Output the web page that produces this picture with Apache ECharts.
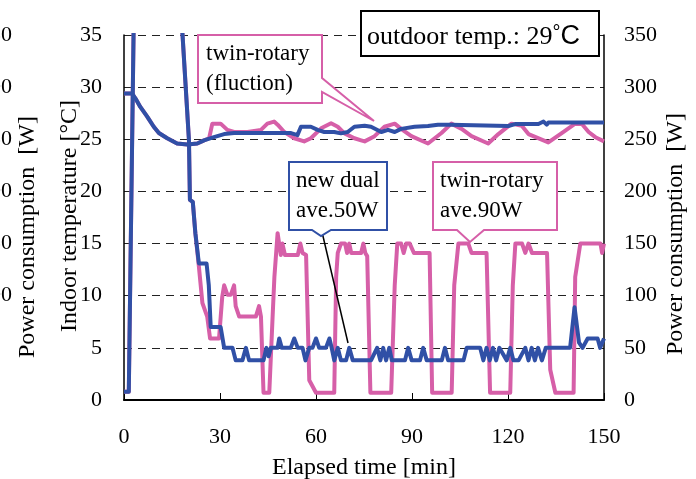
<!DOCTYPE html>
<html>
<head>
<meta charset="utf-8">
<script src="https://cdn.jsdelivr.net/npm/echarts@6/dist/echarts.min.js"></script>
<style>html,body{margin:0;padding:0;background:#fff}#c{width:696px;height:479px}</style>
</head>
<body>
<div id="c"></div>
<script>
// ---- data (time in min) ----
const xTicks = [0, 30, 60, 90, 120, 150];

// Indoor temperature, new dual (blue) [°C]
const dualTempT = [0, 2.5, 3.6, 5.1, 7.2, 9.3, 10.9, 13.5, 16.6, 19.8, 22.9, 25, 28.1, 31.3, 34.4, 42.8, 49, 52.2, 54.2, 55.3, 58.4, 60.5, 62.6, 65.7, 67.8, 69.9, 72, 75.2, 77.2, 80.4, 82.5, 84.6, 86.6, 90.8, 95, 98.1, 102.3, 105.5, 120.1, 122.2, 129.5, 131.1, 132.1, 132.6, 150];
const dualTempV = [29.4, 29.4, 28.9, 28.1, 27.2, 26.2, 25.6, 25.1, 24.6, 24.5, 24.6, 24.9, 25.2, 25.5, 25.6, 25.6, 25.6, 25.6, 25.4, 26.2, 26.2, 25.9, 25.7, 25.7, 25.57, 25.7, 26.2, 26.3, 26.2, 25.7, 25.9, 25.7, 26.0, 26.2, 26.27, 26.4, 26.4, 26.36, 26.27, 26.46, 26.46, 26.7, 26.4, 26.6, 26.6];

// Indoor temperature, twin-rotary (pink) [°C]
const twinTempT = [0, 2.5, 3.6, 5.1, 7.2, 9.3, 10.9, 13.5, 16.6, 19.8, 22.9, 25, 26.6, 27.6, 30.2, 32.3, 34.4, 38.6, 42.8, 44.8, 46.9, 48, 50.1, 53.2, 56.3, 58.4, 61.6, 64.7, 66.8, 68.9, 72, 74.1, 75.2, 78.3, 81.4, 84.6, 86.6, 89.8, 95, 99.2, 102.3, 105.5, 108.6, 113.8, 117, 121.1, 124.3, 126.4, 132.6, 136.8, 141, 143.1, 145.2, 147.3, 150];
const twinTempV = [29.4, 29.4, 28.9, 28.1, 27.2, 26.2, 25.6, 25.1, 24.6, 24.5, 24.6, 24.9, 25.1, 26.5, 26.5, 25.9, 25.7, 25.7, 25.9, 26.5, 26.7, 26.4, 25.7, 25.1, 24.8, 25.1, 26.05, 26.53, 26.2, 25.57, 25.1, 24.9, 24.8, 25.3, 26.2, 26.5, 26.0, 25.3, 24.6, 25.6, 26.5, 26.0, 25.3, 24.6, 25.5, 26.5, 26.3, 25.5, 24.7, 25.6, 26.5, 26.46, 25.7, 25.2, 24.8];

// Power consumption, new dual (blue) [W]
const dualPowT = [0, 1.5, 3.2, 17.3, 20.3, 20.6, 21.5, 22.3, 23.4, 25.8, 26.5, 27.1, 30.2, 31.3, 33.9, 34.9, 37, 38.1, 39.1, 43.6, 44.5, 45.2, 45.9, 48, 48.5, 49.3, 52.1, 53.2, 54.3, 55.8, 56.7, 57.9, 58.9, 60, 61, 63.1, 64.2, 64.9, 65.7, 66.8, 67.8, 69.4, 70.4, 71.5, 77.2, 79.1, 80.1, 81, 81.9, 82.9, 83.7, 87.8, 88.8, 89.9, 92.5, 93.5, 94.6, 99.3, 100.3, 101.3, 106.1, 107.1, 111.3, 112.3, 113.3, 114.3, 115.3, 116.3, 117.3, 119.6, 120.7, 121.7, 123.3, 125.4, 126.4, 127.4, 128.4, 129.4, 130.6, 131.8, 133.7, 139.4, 140.8, 142.2, 143.3, 144.9, 148, 148.8, 150];
const dualPowV = [8, 8, 400, 400, 249, 192, 190, 160, 131, 131, 110, 70, 70, 50, 50, 38, 38, 50, 38, 38, 50, 42, 50, 50, 59, 50, 50, 59, 50, 50, 38, 50, 50, 59, 50, 50, 59, 50, 38, 50, 38, 38, 50, 38, 38, 50, 38, 50, 38, 50, 38, 38, 50, 38, 38, 50, 38, 38, 50, 38, 38, 50, 50, 38, 50, 38, 50, 38, 50, 38, 50, 38, 38, 50, 38, 50, 38, 50, 38, 50, 50, 50, 89, 55, 50, 59, 59, 50, 59];

// Power consumption, twin-rotary (pink) [W]
const twinPowT = [0, 1.5, 3.2, 17.3, 20.3, 20.6, 21.5, 22.3, 23.4, 24.5, 26, 26.9, 29.7, 30.7, 31.3, 32.3, 33.4, 34.4, 34.9, 36, 41.2, 42.2, 42.8, 43.6, 45.4, 46.4, 47, 48, 49, 49.5, 50.3, 54.3, 55.1, 55.8, 56.9, 57.9, 60, 65.7, 66.3, 66.8, 67.8, 69.1, 69.7, 70.4, 71, 74.1, 74.8, 75.4, 76, 77, 83.5, 84.6, 85.4, 86.6, 87.4, 88.2, 89.3, 90.6, 95.5, 96.3, 102.4, 103.2, 104.5, 107.6, 108.6, 113.3, 114.4, 120.7, 121.5, 122.3, 124.4, 125.4, 126.4, 127.5, 132.2, 133.2, 134.8, 140.5, 141, 142.6, 148.9, 149.4, 150];
const twinPowV = [8, 8, 400, 400, 249, 192, 190, 160, 128, 93, 80, 59, 59, 99, 110, 101, 101, 110, 90, 80, 80, 90, 80, 7, 7, 77, 118, 160, 139, 150, 139, 139, 150, 141, 139, 19, 7, 7, 118, 141, 150, 150, 141, 150, 141, 141, 150, 141, 138, 7, 7, 110, 150, 150, 141, 150, 150, 141, 141, 7, 7, 110, 150, 150, 141, 141, 7, 7, 110, 150, 150, 141, 150, 141, 141, 29, 7, 7, 118, 150, 150, 141, 150];

const BLUE = '#3050a6';
const PINK = '#d65fa8';
const SERIF = 'Liberation Serif';

function pairs(t, v) { return t.map((x, i) => [x, v[i]]); }

const chart = echarts.init(document.getElementById('c'));
const txt = (s) => Object.assign({ color: '#000', fontFamily: SERIF }, s);

chart.setOption({
  animation: false,
  backgroundColor: '#fff',
  grid: { left: 124, right: 92, top: 35, bottom: 79, containLabel: false, outerBoundsMode: 'none' },
  xAxis: {
    type: 'value', min: 0, max: 150, interval: 30,
    axisLine: { lineStyle: { color: '#000', width: 2 } },
    axisTick: { inside: true, length: 7, lineStyle: { color: '#000', width: 1 } },
    splitLine: { show: false },
    axisLabel: txt({ fontSize: 22, margin: 26, formatter: v => xTicks.includes(v) ? String(v) : '' }),
    name: 'Elapsed time [min]', nameLocation: 'middle', nameGap: 56,
    nameTextStyle: txt({ fontSize: 24 })
  },
  yAxis: [
    {
      type: 'value', min: 0, max: 35, interval: 5, position: 'left',
      axisLine: { show: true, lineStyle: { color: '#000', width: 1.5 } },
      axisTick: { show: false },
      splitLine: { show: true, lineStyle: { color: '#222', width: 1, type: [8, 6] } },
      axisLabel: txt({ fontSize: 22, margin: 22 })
    },
    {
      type: 'value', min: 0, max: 350, interval: 50, position: 'right',
      axisLine: { show: true, lineStyle: { color: '#000', width: 1.5 } },
      axisTick: { show: false },
      splitLine: { show: false },
      axisLabel: txt({ fontSize: 22, margin: 20 })
    },
    {
      type: 'value', min: 0, max: 350, interval: 50, position: 'left', offset: 90,
      axisLine: { show: false }, axisTick: { show: false }, splitLine: { show: false },
      axisLabel: txt({ fontSize: 22, margin: 22, formatter: v => v >= 100 ? String(v) : '' })
    }
  ],
  series: [
    { name: 'twin-rotary temp', type: 'line', yAxisIndex: 0, data: pairs(twinTempT, twinTempV), showSymbol: false, lineStyle: { color: PINK, width: 4, join: 'round' }, itemStyle: { color: PINK } },
    { name: 'twin-rotary power', type: 'line', yAxisIndex: 1, data: pairs(twinPowT, twinPowV), showSymbol: false, lineStyle: { color: PINK, width: 4, join: 'round' }, itemStyle: { color: PINK } },
    { name: 'new dual temp', type: 'line', yAxisIndex: 0, data: pairs(dualTempT, dualTempV), showSymbol: false, lineStyle: { color: BLUE, width: 4, join: 'round' }, itemStyle: { color: BLUE } },
    { name: 'new dual power', type: 'line', yAxisIndex: 1, data: pairs(dualPowT, dualPowV), showSymbol: false, lineStyle: { color: BLUE, width: 4, join: 'round' }, itemStyle: { color: BLUE } }
  ],
  graphic: [
    // axis titles
    { type: 'text', x: 70, y: 216, rotation: Math.PI / 2, z: 20,
      style: { text: 'Indoor temperature [°C]', font: '24px "Liberation Serif"', fill: '#000', align: 'center', verticalAlign: 'middle' } },
    { type: 'text', x: 676, y: 234, rotation: Math.PI / 2, z: 20,
      style: { text: 'Power consumption  [W]', font: '24px "Liberation Serif"', fill: '#000', align: 'center', verticalAlign: 'middle' } },
    { type: 'text', x: 28, y: 237, rotation: Math.PI / 2, z: 20,
      style: { text: 'Power consumption  [W]', font: '24px "Liberation Serif"', fill: '#000', align: 'center', verticalAlign: 'middle' } },
    // outdoor temp box
    { type: 'rect', z: 20, shape: { x: 361, y: 11, width: 238, height: 45 },
      style: { fill: '#fff', stroke: '#000', lineWidth: 2 } },
    { type: 'text', x: 367, y: 37, z: 21,
      style: { text: '{a|outdoor temp.: 29}{b|°}{c|C}', verticalAlign: 'middle', align: 'left',
        rich: { a: { font: '26px "Liberation Serif"', fill: '#000' },
                b: { font: '20px "Liberation Sans"', fill: '#000', verticalAlign: 'top', padding: [0, 0, 8, 0] },
                c: { font: '27px "Liberation Sans"', fill: '#000' } } } },
    // twin-rotary (fluction) callout
    { type: 'polygon', z: 20, shape: { points: [[198, 35], [322, 35], [322, 78], [374, 121], [322, 92], [322, 103], [198, 103]] },
      style: { fill: '#fff', stroke: PINK, lineWidth: 2 } },
    { type: 'text', x: 206, y: 69, z: 21,
      style: { text: 'twin-rotary\n(fluction)', font: '23px "Liberation Serif"', lineHeight: 30, fill: '#000', align: 'left', verticalAlign: 'middle' } },
    // new dual callout
    { type: 'line', z: 19, shape: { x1: 322, y1: 232, x2: 348, y2: 343 }, style: { stroke: '#000', lineWidth: 1.5 } },
    { type: 'polygon', z: 20, shape: { points: [[289, 162], [387, 162], [387, 230], [331, 230], [321, 236], [312, 230], [289, 230]] },
      style: { fill: '#fff', stroke: BLUE, lineWidth: 2 } },
    { type: 'text', x: 296, y: 196, z: 21,
      style: { text: 'new dual\nave.50W', font: '23px "Liberation Serif"', lineHeight: 30, fill: '#000', align: 'left', verticalAlign: 'middle' } },
    // twin-rotary ave callout
    { type: 'polygon', z: 20, shape: { points: [[433, 162], [557, 162], [557, 230], [484, 230], [470, 242], [457, 230], [433, 230]] },
      style: { fill: '#fff', stroke: PINK, lineWidth: 2 } },
    { type: 'text', x: 440, y: 196, z: 21,
      style: { text: 'twin-rotary\nave.90W', font: '23px "Liberation Serif"', lineHeight: 30, fill: '#000', align: 'left', verticalAlign: 'middle' } }
  ]
});
</script>
</body>
</html>
